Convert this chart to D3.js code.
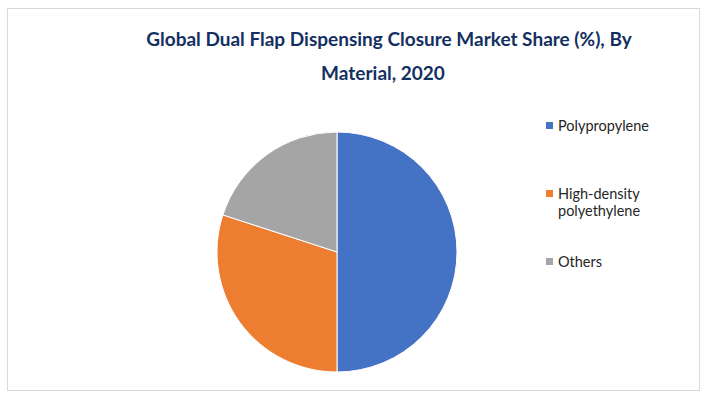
<!DOCTYPE html>
<html>
<head>
<meta charset="utf-8">
<script src="https://cdn.jsdelivr.net/npm/d3@7"></script>
<style>
  body { margin: 0; background: #fff; }
  text { font-family: Lato, "Open Sans", sans-serif; }
</style>
</head>
<body>
<script>
const titleLines = ["Global Dual Flap Dispensing Closure Market Share (%), By", "Material, 2020"];
const materials = ["Polypropylene", "High-density polyethylene", "Others"];
const legendLines = [["Polypropylene"], ["High-density", "polyethylene"], ["Others"]];
const shares = [50, 30, 20];
const colors = ["#4472c4", "#ed7d31", "#a5a5a5"];

main();

function main() {
  const w = 707;
  const h = 395;

  const svg = d3.select("body")
    .append("svg").attr("width", w).attr("height", h);

  // chart frame
  svg.append("rect")
    .attr("x", 7.5).attr("y", 8.5)
    .attr("width", 692).attr("height", 382)
    .attr("fill", "#fff")
    .attr("stroke", "#d9d9d9")
    .attr("stroke-width", 1);

  svg.selectAll(".title")
    .data(titleLines).enter().append("text")
    .attr("class", "title")
    .attr("x", (d, i) => i == 0 ? 389 : 383)
    .attr("y", (d, i) => 46 + i * 34)
    .attr("text-anchor", "middle")
    .attr("font-size", "19px")
    .attr("font-weight", "bold")
    .attr("fill", "#142f62")
    .text(d => d);

  const table = materials.map((m, i) => ({ name: m, value: shares[i], color: colors[i] }));

  const pie = d3.pie().sort(null).value(d => d.value);
  const arc = d3.arc().innerRadius(0).outerRadius(120);

  svg.append("g")
    .attr("transform", "translate(337,252)")
    .selectAll(".slice")
    .data(pie(table)).enter().append("path")
    .attr("class", "slice")
    .attr("d", arc)
    .attr("fill", d => d.data.color)
    .attr("stroke", "#fff")
    .attr("stroke-width", 1);

  const legendY = d3.scalePoint().domain(materials).range([126, 262]);

  const legend = svg.append("g").attr("id", "legend");
  materials.forEach((m, i) => {
    legend.append("rect")
      .attr("x", 546)
      .attr("y", legendY(m) - 4)
      .attr("width", 7)
      .attr("height", 7)
      .attr("fill", colors[i]);
    legendLines[i].forEach((line, j) => {
      legend.append("text")
        .attr("x", 558)
        .attr("y", legendY(m) + 5 + j * 17)
        .attr("font-size", "14.5px")
        .attr("fill", "#262626")
        .text(line);
    });
  });
}
</script>
</body>
</html>
